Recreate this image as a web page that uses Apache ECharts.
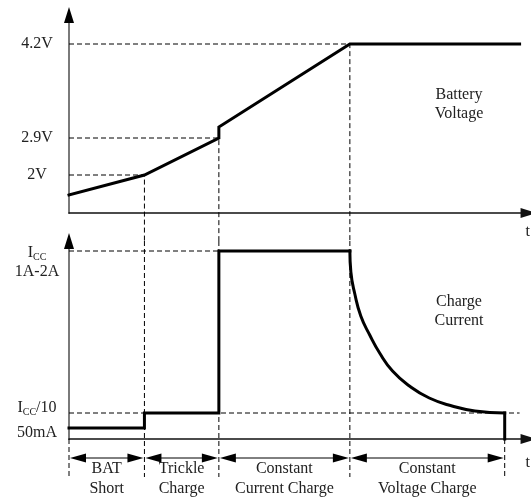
<!DOCTYPE html>
<html><head><meta charset="utf-8">
<script src="https://cdn.jsdelivr.net/npm/echarts@6/dist/echarts.min.js"></script>
<style>html,body{margin:0;padding:0;background:#fff}#c{width:531px;height:500px}</style>
</head><body><div id="c"></div>
<script>
// ---------------- data (schematic units) ----------------
const phaseNames  = ['BAT\nShort', 'Trickle\nCharge', 'Constant\nCurrent Charge', 'Constant\nVoltage Charge'];
const phaseBounds = [0, 76, 151, 283, 439];
const timeMax  = 458;
const levelMax = 198;
const panelTitles = ['Battery\nVoltage', 'Charge\nCurrent'];
const axisName = 't';

const voltLabels = ['2V', '2.9V', '4.2V'];
const voltLevels = [38, 75, 169];
const voltT = [0, 76, 151, 151, 283, 454];
const voltV = [18, 38, 75, 86, 169, 169];

const currLabels = ['I_CC\n1A-2A', 'I_CC/10', '50mA'];
const currLevels = [188, 26, 11];
const currStepT  = [0, 76, 76, 151, 151, 283];
const currStepI  = [11, 11, 26, 26, 188, 188];
const currDecayT = [283, 284, 288, 294, 303, 313, 326, 343, 363, 386, 409, 439];
const currDecayI = [188, 167, 145, 123, 104, 86, 68, 53, 41, 33, 28, 26];
const currEndT   = [439, 439];
const currEndI   = [26, 0];
const termGuideEnd = 454;

// ---------------- layout / style ----------------
const FONT = 'Liberation Serif';
const FS = 16;
const TXT = '#222';
const gapBelowTop = -28;   // top panel guides run down into the gap
const belowBottom = -38;   // bottom panel guides run below the axis

const zip = (a, b) => a.map((v, i) => [v, b[i]]);

function guide(points, gi) {
  return {
    type: 'line', xAxisIndex: gi, yAxisIndex: gi, data: points, symbol: 'none',
    silent: true, clip: false, z: 1, animation: false,
    lineStyle: { color: '#000', width: 1, type: [5, 3] }
  };
}
function curve(points, gi, smooth) {
  return {
    type: 'line', xAxisIndex: gi, yAxisIndex: gi, data: points, symbol: 'none',
    silent: true, clip: false, z: 3, animation: false,
    smooth: smooth || false,
    lineStyle: { color: '#000', width: 3, cap: 'square', join: 'miter' }
  };
}

function fmtCurr(v) {
  const i = currLevels.indexOf(v);
  if (i < 0) return '';
  const body = currLabels[i].split('\n').map(line => {
    const parts = line.split('I_CC');
    return parts.map(p => p ? '{a|' + p + '}' : '').join('{a|I}{s|CC}');
  }).join('\n');
  if (i === 0) return '{g| }\n' + body;
  if (i === 1) return body + '\n{h| }';
  return '{h| }\n' + body;
}

const series = [];
voltLevels.forEach((lv, i) => {
  const t = phaseBounds[i + 1];
  series.push(guide([[0, lv], [t, lv], [t, gapBelowTop]], 0));
});
series.push(guide([[0, currLevels[0]], [phaseBounds[2], currLevels[0]]], 1));
series.push(guide([[0, currLevels[1]], [termGuideEnd, currLevels[1]]], 1));
[1, 2, 3].forEach(k => series.push(guide([[phaseBounds[k], levelMax], [phaseBounds[k], belowBottom]], 1)));
[0, 4].forEach(k => series.push(guide([[phaseBounds[k], 0], [phaseBounds[k], belowBottom]], 1)));

series.push(curve(zip(voltT, voltV), 0));
series.push(curve(zip(currStepT, currStepI), 1));
series.push(curve(zip(currDecayT, currDecayI), 1, 0.5));
series.push(curve(zip(currEndT, currEndI), 1));

series.push({
  type: 'custom', xAxisIndex: 1, yAxisIndex: 1, clip: false, silent: true, animation: false, z: 4,
  data: phaseNames.map((n, i) => [phaseBounds[i], phaseBounds[i + 1], i]),
  encode: { x: [0, 1] },
  renderItem: (params, api) => {
    const x0 = api.value(0), x1 = api.value(1), i = api.value(2);
    const a = api.coord([x0, 0]), b = api.coord([x1, 0]);
    const y = a[1] + 19, L = 16, H = 4.5;
    const l = a[0] + 1, r = b[0] - 1;
    return {
      type: 'group', children: [
        { type: 'line', shape: { x1: l + L - 2, y1: y, x2: r - L + 2, y2: y }, style: { stroke: '#000', lineWidth: 1 } },
        { type: 'polygon', shape: { points: [[l, y], [l + L, y - H], [l + L, y + H]] }, style: { fill: '#000' } },
        { type: 'polygon', shape: { points: [[r, y], [r - L, y - H], [r - L, y + H]] }, style: { fill: '#000' } },
        { type: 'text', style: {
            text: phaseNames[i], x: (a[0] + b[0]) / 2, y: y + 1,
            align: 'center', textAlign: 'center', verticalAlign: 'top', textVerticalAlign: 'top',
            lineHeight: 20, fontSize: FS, fontFamily: FONT, fill: TXT } }
      ]
    };
  }
});

function xAxis(gi, pad) {
  return {
    type: 'value', gridIndex: gi, min: 0, max: timeMax,
    axisLine: { show: true, onZero: false, symbol: ['none', 'triangle'], symbolSize: [10, 16], symbolOffset: [0, 5],
      lineStyle: { color: '#111', width: 1.5 } },
    axisTick: { show: false }, axisLabel: { show: false }, splitLine: { show: false },
    name: axisName, nameLocation: 'end', nameGap: 2,
    nameTextStyle: { fontFamily: FONT, fontSize: FS, color: TXT, align: 'left', verticalAlign: 'top', padding: [pad, 0, 0, 0] }
  };
}
function labelCfg(levels, fmt, rich) {
  return { show: true, customValues: levels, formatter: fmt, margin: 32, align: 'center',
    hideOverlap: false, fontFamily: FONT, fontSize: FS, color: TXT, rich: rich || {} };
}
function yMain(gi, levels, fmt, rich) {
  return {
    type: 'value', gridIndex: gi, min: 0, max: levelMax, position: 'left',
    axisLine: { show: true, onZero: false, lineStyle: { color: '#7a7a7a', width: 2 } },
    axisTick: { show: false }, splitLine: { show: false },
    axisLabel: labelCfg(levels, fmt, rich)
  };
}
function yArrow(gi, levels, fmt, rich) {
  return {
    type: 'value', gridIndex: gi, min: 0, max: levelMax, position: 'left', offset: 0,
    axisLine: { show: true, onZero: false, symbol: ['none', 'triangle'], symbolSize: [10, 16],
      lineStyle: { color: '#000', width: 0 } },
    axisTick: { show: false }, splitLine: { show: false },
    axisLabel: levels ? labelCfg(levels, fmt, rich) : { show: false }
  };
}

const richCurr = {
  a: { fontFamily: FONT, fontSize: FS, color: TXT, lineHeight: 19 },
  s: { fontFamily: FONT, fontSize: 10, color: TXT, lineHeight: 12, verticalAlign: 'bottom' },
  g: { fontSize: 8, lineHeight: 23 },
  h: { fontSize: 8, lineHeight: 10 }
};

const option = {
  backgroundColor: '#fff',
  animation: false,
  grid: [
    { left: 69, right: 4, top: 15, height: 198, containLabel: false },
    { left: 69, right: 4, top: 241, height: 198, containLabel: false }
  ],
  xAxis: [xAxis(0, 11), xAxis(1, 16)],
  yAxis: [
    yMain(0, voltLevels, v => { const i = voltLevels.indexOf(v); return i < 0 ? '' : voltLabels[i]; }),
    yMain(1, [currLevels[0], currLevels[2]], fmtCurr, richCurr),
    yArrow(0),
    yArrow(1, [currLevels[1]], fmtCurr, richCurr)
  ],
  graphic: [
    { type: 'text', x: 459, y: 104, style: { text: panelTitles[0], align: 'center', textAlign: 'center',
      verticalAlign: 'middle', textVerticalAlign: 'middle', lineHeight: 19, fontSize: FS, fontFamily: FONT, fill: TXT } },
    { type: 'text', x: 459, y: 311, style: { text: panelTitles[1], align: 'center', textAlign: 'center',
      verticalAlign: 'middle', textVerticalAlign: 'middle', lineHeight: 19, fontSize: FS, fontFamily: FONT, fill: TXT } }
  ],
  series: series
};

const chart = echarts.init(document.getElementById('c'), null, { renderer: 'canvas' });
chart.setOption(option);
</script>
</body></html>
